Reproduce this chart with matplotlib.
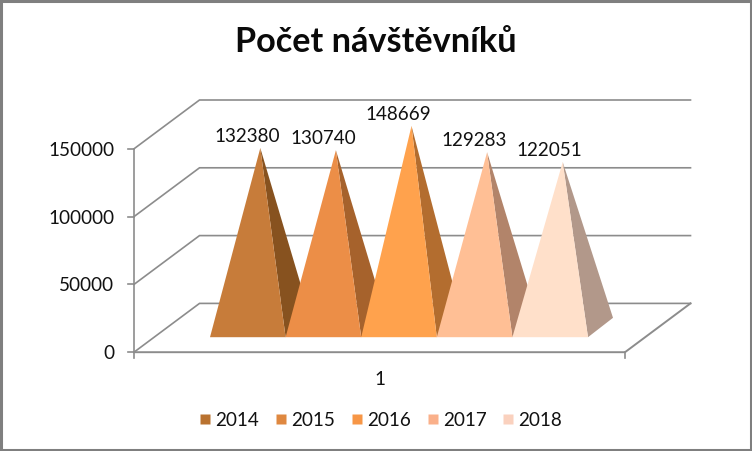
import matplotlib
matplotlib.use("Agg")
import matplotlib.pyplot as plt
from matplotlib.lines import Line2D
from matplotlib.patches import Polygon, Rectangle

plt.rcParams['font.family'] = ['Lato', 'DejaVu Sans']

years = ['2014', '2015', '2016', '2017', '2018']
visitors = [132380, 130740, 148669, 129283, 122051]
y_ticks = [0, 50000, 100000, 150000]
category = '1'
title = 'Počet návštěvníků'
front_colors = ['#C77C3A', '#EC8E47', '#FFA24D', '#FFBF95', '#FFE0CA']
side_colors = ['#87521F', '#A6622C', '#B36D2F', '#B2846A', '#B2988A']
legend_colors = ['#B9722F', '#DF8840', '#F79646', '#FAB08A', '#FAD1BE']

GRID = '#8C8C8C'
TEXT = '#111111'

# pseudo-3D projection (pixel space of the figure)
X0, X1, Y0 = 134.0, 625.0, 353.2
DX, DY = 65.5, -48.8
PX_PER_UNIT = 203.4 / 150000
BASE_L, BASE_W = 210.0, 75.6
BASE_Y = 338.2
DEPTH_X, DEPTH_Y = 25.0, -19.4
FONT = 13.6


def vy(v):
    return Y0 - v * PX_PER_UNIT


fig = plt.figure(figsize=(7.52, 4.52), dpi=100, facecolor='white')
ax = fig.add_axes([0, 0, 1, 1])
ax.set_xlim(0, 752)
ax.set_ylim(452, 0)
ax.axis('off')

# chart border
ax.add_patch(Rectangle((1.2, 1.6), 749.4, 449.6, fill=False, ec='#7F7F7F', lw=2.2, zorder=10))

# walls and gridlines
for v in y_ticks:
    y = vy(v)
    ax.plot([X0, X0 + DX, X0 + DX + X1 - X0], [y, y + DY, y + DY], color=GRID, lw=1.2, zorder=1,
            solid_joinstyle='miter')
    ax.plot([X0 - 6.5, X0], [y, y], color=GRID, lw=1.2, zorder=1)
    ax.text(114, y + 0.5, str(v), ha='right', va='center', fontsize=FONT, color=TEXT)

# axis frame
ax.plot([X0, X0], [vy(y_ticks[-1]), Y0 + 5.5], color=GRID, lw=1.2, zorder=1)
ax.plot([X0, X1, X1 + DX], [Y0, Y0, Y0 + DY], color=GRID, lw=1.4, zorder=1)
ax.plot([X1, X1], [Y0, Y0 + 5.5], color=GRID, lw=1.2, zorder=1)
ax.text(380, 380, category, ha='center', va='center', fontsize=FONT, color=TEXT)

# pyramids
for i, (val, fc, sc) in enumerate(zip(visitors, front_colors, side_colors)):
    left = BASE_L + i * BASE_W
    right = left + BASE_W
    cx = (left + right) / 2 + DEPTH_X / 2
    base_mid = BASE_Y + DEPTH_Y / 2
    apex = (cx, base_mid - val * PX_PER_UNIT)
    z = 3 + i
    ax.add_patch(Polygon([(right, BASE_Y), apex, (right + DEPTH_X, BASE_Y + DEPTH_Y)],
                         closed=True, fc=sc, ec='none', zorder=z))
    ax.add_patch(Polygon([(left, BASE_Y), (right, BASE_Y), apex],
                         closed=True, fc=fc, ec='none', zorder=z + 0.5))
    ax.text(apex[0] - 13, apex[1] - 12.5, str(val), ha='center', va='center',
            fontsize=FONT, color=TEXT, zorder=20)

# title
ax.text(376, 42.5, title, ha='center', va='center', fontsize=24.7, fontweight='bold', color='#0A0A0A')

# legend
handles = [Line2D([], [], linestyle='none', marker='s', markersize=7.9, color=c, markeredgecolor='none')
           for c in legend_colors]
ax.legend(handles, years, loc='center', bbox_to_anchor=(380, 421), bbox_transform=ax.transData,
          ncol=5, frameon=False, fontsize=FONT, handletextpad=0.15, columnspacing=0.74,
          labelcolor=TEXT, handlelength=0.8, borderpad=0, borderaxespad=0)

fig.savefig('out.png', dpi=100, facecolor='white')
